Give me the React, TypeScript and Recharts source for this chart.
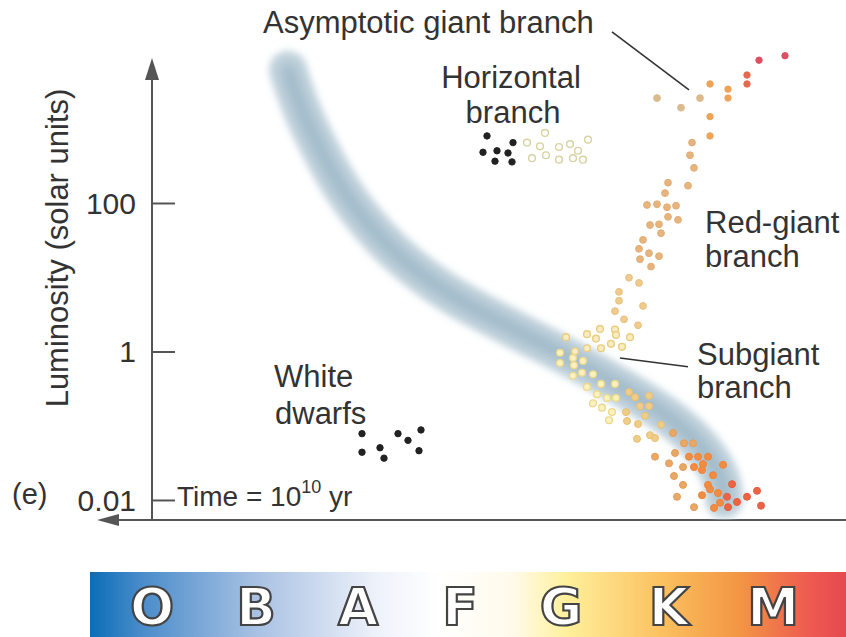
import React from 'react';
import { ComposedChart, Line, Scatter, XAxis, YAxis, ReferenceLine, ReferenceDot } from 'recharts';

// x: spectral position (arbitrary units, O -> M), y: log10 luminosity (solar units)
type Pt = [number, number];

const yTicks = [-2, 0, 2];
const tickLabels: Record<number, string> = { '-2': '0.01', '0': '1', '2': '100' } as any;
const spectralClasses = ['O', 'B', 'A', 'F', 'G', 'K', 'M'];

// blurred main-sequence band (what is left of it)
const mainSequenceBand: Pt[] = [
  [13.6, 3.8], [14.4, 3.46], [15.4, 3.12], [16.6, 2.79], [18.0, 2.42], [19.6, 2.07],
  [21.6, 1.72], [24.0, 1.37], [26.8, 1.05], [30.0, 0.75], [33.6, 0.49], [37.4, 0.22],
  [41.4, -0.05], [45.4, -0.35], [49.2, -0.65], [52.4, -0.94], [54.8, -1.24],
  [56.4, -1.54], [57.2, -1.81], [57.2, -1.99],
];

const whiteDwarfs: Pt[] = [
  [21.0, -1.10], [21.0, -1.35], [22.8, -1.29], [23.2, -1.43],
  [24.6, -1.10], [25.6, -1.19], [26.9, -1.05], [26.7, -1.33],
];

const hbBlack: Pt[] = [
  [33.5, 2.91], [33.1, 2.69], [34.5, 2.71], [36.1, 2.82], [35.6, 2.68], [34.3, 2.57], [36.0, 2.56],
];

const hbHollow: Pt[] = [
  [37.5, 2.82], [39.3, 2.95], [38.8, 2.77], [38.0, 2.61], [39.4, 2.65], [40.7, 2.76],
  [40.7, 2.59], [41.8, 2.80], [42.6, 2.71], [42.1, 2.61], [43.1, 2.59], [43.6, 2.86],
];

const agbRed: Pt[] = [[63.3, 3.99], [60.7, 3.93]];
const agbRedOrange: Pt[] = [[59.5, 3.73], [59.5, 3.61]];
const agbOrange: Pt[] = [[57.6, 3.54], [57.6, 3.42], [55.8, 3.61], [55.8, 3.17], [55.8, 2.91]];
const agbTan: Pt[] = [[54.8, 3.42], [52.9, 3.29], [50.5, 3.42]];

const redGiantUpper: Pt[] = [
  [54.0, 2.82], [53.8, 2.65], [54.2, 2.48], [51.6, 2.28], [53.6, 2.24], [51.3, 2.14],
  [49.5, 1.98], [50.5, 1.99], [51.5, 1.95], [52.4, 1.97], [51.6, 1.82], [52.6, 1.78],
  [49.8, 1.71], [50.7, 1.72], [50.9, 1.60], [49.1, 1.51], [48.7, 1.39], [49.7, 1.33],
  [50.7, 1.29], [48.8, 1.25], [49.9, 1.15],
];

const redGiantLower: Pt[] = [
  [47.7, 1.00], [48.7, 0.93], [46.7, 0.81], [46.7, 0.69], [49.1, 0.62], [46.3, 0.55],
  [47.2, 0.44], [48.6, 0.36],
];

const subgiants: Pt[] = [
  [44.8, 0.31], [43.5, 0.24], [46.3, 0.30], [46.4, 0.23], [44.4, 0.18], [41.4, 0.20],
  [47.8, 0.20], [42.3, 0.01], [43.5, 0.05], [44.9, 0.05], [45.9, 0.11], [47.0, 0.07],
];

const msPale: Pt[] = [
  [40.8, -0.01], [42.1, -0.08], [43.1, -0.12], [40.8, -0.15], [42.2, -0.18], [42.1, -0.32],
  [43.0, -0.28], [44.1, -0.30], [43.5, -0.47], [44.9, -0.43], [46.3, -0.43], [44.5, -0.57],
  [45.5, -0.62], [46.4, -0.62], [44.1, -0.69], [45.0, -0.75], [46.0, -0.81], [45.7, -0.92],
];

const msYellowTan: Pt[] = [
  [47.7, -0.54], [48.3, -0.61], [49.7, -0.59], [47.4, -0.81], [48.8, -0.73], [49.7, -0.73],
  [47.5, -0.93], [48.6, -0.97], [49.3, -0.86], [50.9, -0.98], [48.5, -1.17], [49.8, -1.12],
  [50.3, -1.16],
];

const msTanOrange: Pt[] = [
  [52.1, -1.09], [53.2, -1.23], [54.1, -1.23], [50.3, -1.41], [51.7, -1.50], [52.3, -1.36],
  [53.1, -1.55], [52.2, -1.67], [53.1, -1.79], [52.5, -1.95], [54.2, -2.09],
];

const msOrange: Pt[] = [
  [53.7, -1.41], [54.6, -1.41], [55.6, -1.41], [54.2, -1.55], [55.1, -1.51], [55.0, -1.59],
  [56.1, -1.66], [57.1, -1.52], [55.6, -1.79], [55.8, -1.85], [55.0, -1.93], [56.6, -1.90],
  [56.2, -2.10], [56.8, -2.03],
];

const msRedOrange: Pt[] = [
  [58.0, -1.78], [57.5, -1.95], [58.5, -2.02], [59.5, -1.95], [60.5, -1.87], [60.9, -2.07], [57.6, -2.09],
];

const toRows = (pts: Pt[]) => pts.map(([x, y]) => ({ x, y }));

const X_DOMAIN: [number, number] = [0, 69.4];
const Y_DOMAIN: [number, number] = [-2.263, 4.202];

const FONT = '"Liberation Sans", Arial, Helvetica, sans-serif';
const INK = '#333';

const dot = (fill: string, stroke: string, r = 3.6, sw = 1) => (p: any) => (
  <circle cx={p.cx} cy={p.cy} r={r} fill={fill} stroke={stroke} strokeWidth={sw} />
);

const YTick = (props: any) => {
  const { x, y, payload } = props;
  return (
    <g>
      <line x1={x + 16} x2={x + 39} y1={y} y2={y} stroke="#555" strokeWidth={2} />
      <text x={x} y={y} dy="0.35em" textAnchor="end" fontSize={30} fontFamily={FONT} fill={INK}>
        {tickLabels[payload.value]}
      </text>
    </g>
  );
};

const upArrow = (p: any) => (
  <polygon points={`${p.cx},${p.cy} ${p.cx - 7},${p.cy + 22} ${p.cx + 7},${p.cy + 22}`} fill="#555" />
);
const leftArrow = (p: any) => (
  <polygon points={`${p.cx},${p.cy} ${p.cx + 22},${p.cy - 6} ${p.cx + 22},${p.cy + 6}`} fill="#555" />
);

const App = () => {
  const txt = { fontFamily: FONT, fontSize: 31, fill: INK } as const;
  return (
    <div style={{ position: 'absolute', left: 0, top: 0, width: 846, height: 637, background: '#fff' }}>
      <svg width={0} height={0} style={{ position: 'absolute' }}>
        <defs>
          <filter id="soft" x="-20%" y="-20%" width="140%" height="140%">
            <feGaussianBlur stdDeviation="3.5" />
          </filter>
          <filter id="softer" x="-20%" y="-20%" width="140%" height="140%">
            <feGaussianBlur stdDeviation="7" />
          </filter>
          <linearGradient id="spectrum" x1="0" x2="1" y1="0" y2="0">
            <stop offset="0" stopColor="#0b6db6" />
            <stop offset="0.07" stopColor="#4b8dcb" />
            <stop offset="0.22" stopColor="#a8c1e3" />
            <stop offset="0.38" stopColor="#eef2fa" />
            <stop offset="0.46" stopColor="#ffffff" />
            <stop offset="0.56" stopColor="#fffaea" />
            <stop offset="0.63" stopColor="#fff09c" />
            <stop offset="0.76" stopColor="#fbbf5e" />
            <stop offset="0.86" stopColor="#f39544" />
            <stop offset="0.95" stopColor="#ee5b50" />
            <stop offset="1" stopColor="#e6484f" />
          </linearGradient>
        </defs>
      </svg>

      <ComposedChart width={846} height={637} margin={{ top: 40, right: 0, bottom: 117, left: 92 }}>
        <XAxis type="number" dataKey="x" domain={X_DOMAIN} hide allowDataOverflow />
        <YAxis
          type="number"
          dataKey="y"
          domain={Y_DOMAIN}
          ticks={yTicks}
          width={60}
          axisLine={false}
          tickLine={false}
          tickSize={0}
          tickMargin={16}
          tick={<YTick />}
          allowDataOverflow
        />

        <ReferenceLine segment={[{ x: 0, y: -2.263 }, { x: 0, y: 3.87 }]} stroke="#555" strokeWidth={2} ifOverflow="visible" />
        <ReferenceDot x={0} y={3.96} ifOverflow="visible" shape={upArrow} />
        <ReferenceLine segment={[{ x: -4.0, y: -2.263 }, { x: 69.4, y: -2.263 }]} stroke="#555" strokeWidth={2} ifOverflow="visible" />
        <ReferenceDot x={-5.5} y={-2.263} ifOverflow="visible" shape={leftArrow} />

        <Line data={toRows(mainSequenceBand)} dataKey="y" type="basis" dot={false} stroke="#c6d6df" strokeWidth={38} strokeLinecap="round" strokeLinejoin="round" style={{ filter: 'url(#soft)' }} isAnimationActive={false} />
        <Line data={toRows(mainSequenceBand)} dataKey="y" type="basis" dot={false} stroke="#9db7c7" strokeWidth={16} strokeLinecap="round" strokeLinejoin="round" style={{ filter: 'url(#softer)' }} isAnimationActive={false} />

        <ReferenceLine segment={[{ x: 46.0, y: 4.31 }, { x: 53.7, y: 3.53 }]} stroke={INK} strokeWidth={1.6} ifOverflow="visible" />
        <ReferenceLine segment={[{ x: 46.8, y: -0.08 }, { x: 53.6, y: -0.2 }]} stroke={INK} strokeWidth={1.6} ifOverflow="visible" />

        <Scatter data={toRows(whiteDwarfs)} shape={dot('#222', '#222', 3.2)} isAnimationActive={false} />
        <Scatter data={toRows(hbBlack)} shape={dot('#222', '#222', 3.2)} isAnimationActive={false} />
        <Scatter data={toRows(hbHollow)} shape={dot('#fff', '#d9d2a2', 3.4, 1.4)} isAnimationActive={false} />
        <Scatter data={toRows(agbRed)} shape={dot('#df4f64', '#df4f64', 3.2)} isAnimationActive={false} />
        <Scatter data={toRows(agbRedOrange)} shape={dot('#e36b50', '#e36b50', 3.2)} isAnimationActive={false} />
        <Scatter data={toRows(agbOrange)} shape={dot('#efa356', '#efa356', 3.2)} isAnimationActive={false} />
        <Scatter data={toRows(agbTan)} shape={dot('#dbbb8e', '#dbbb8e', 3.4)} isAnimationActive={false} />
        <Scatter data={toRows(redGiantUpper)} shape={dot('#e6b47c', '#e2ae76', 3.4)} isAnimationActive={false} />
        <Scatter data={toRows(redGiantLower)} shape={dot('#efcb8e', '#e8c07e', 3.4)} isAnimationActive={false} />
        <Scatter data={toRows(subgiants)} shape={dot('#f8ecc0', '#eacd80', 3.4, 1.4)} isAnimationActive={false} />
        <Scatter data={toRows(msPale)} shape={dot('#fbf1bf', '#ecd88a', 3.4, 1.3)} isAnimationActive={false} />
        <Scatter data={toRows(msYellowTan)} shape={dot('#efcd86', '#e8c070', 3.5)} isAnimationActive={false} />
        <Scatter data={toRows(msTanOrange)} shape={dot('#eaa865', '#e49c58', 3.5)} isAnimationActive={false} />
        <Scatter data={toRows(msOrange)} shape={dot('#f28c40', '#ee8438', 3.5)} isAnimationActive={false} />
        <Scatter data={toRows(msRedOrange)} shape={dot('#ea6544', '#e65c3e', 3.5)} isAnimationActive={false} />
      </ComposedChart>

      <svg width={846} height={637} style={{ position: 'absolute', left: 0, top: 0, pointerEvents: 'none' }}>
        <text x={263} y={33} {...txt}>Asymptotic giant branch</text>
        <text x={511} y={88} textAnchor="middle" {...txt}>Horizontal</text>
        <text x={513} y={123} textAnchor="middle" {...txt}>branch</text>
        <text x={705} y={233} {...txt}>Red-giant</text>
        <text x={705} y={267} {...txt}>branch</text>
        <text x={697} y={365} {...txt}>Subgiant</text>
        <text x={697} y={398} {...txt}>branch</text>
        <text x={274} y={387} {...txt}>White</text>
        <text x={275} y={424} {...txt}>dwarfs</text>
        <text x={12} y={504} {...txt} fontSize={29}>(e)</text>
        <text x={177} y={506} {...txt} fontSize={28}>
          Time = 10<tspan fontSize={18} dy={-13}>10</tspan><tspan dy={13}> yr</tspan>
        </text>
        <text x={68} y={248} transform="rotate(-90 68 248)" textAnchor="middle" {...txt}>
          Luminosity (solar units)
        </text>

        <rect x={90} y={572} width={756} height={65} fill="url(#spectrum)" />
        {spectralClasses.map((c, i) => (
          <text
            key={c}
            x={[152, 256, 358, 460, 561, 669, 773][i]}
            y={625}
            textAnchor="middle"
            fontFamily='"DejaVu Sans", sans-serif'
            fontWeight={700}
            fontSize={52}
            fill="#fff"
            stroke="#444"
            strokeWidth={2.2}
          >
            {c}
          </text>
        ))}
      </svg>
    </div>
  );
};

export default App;
